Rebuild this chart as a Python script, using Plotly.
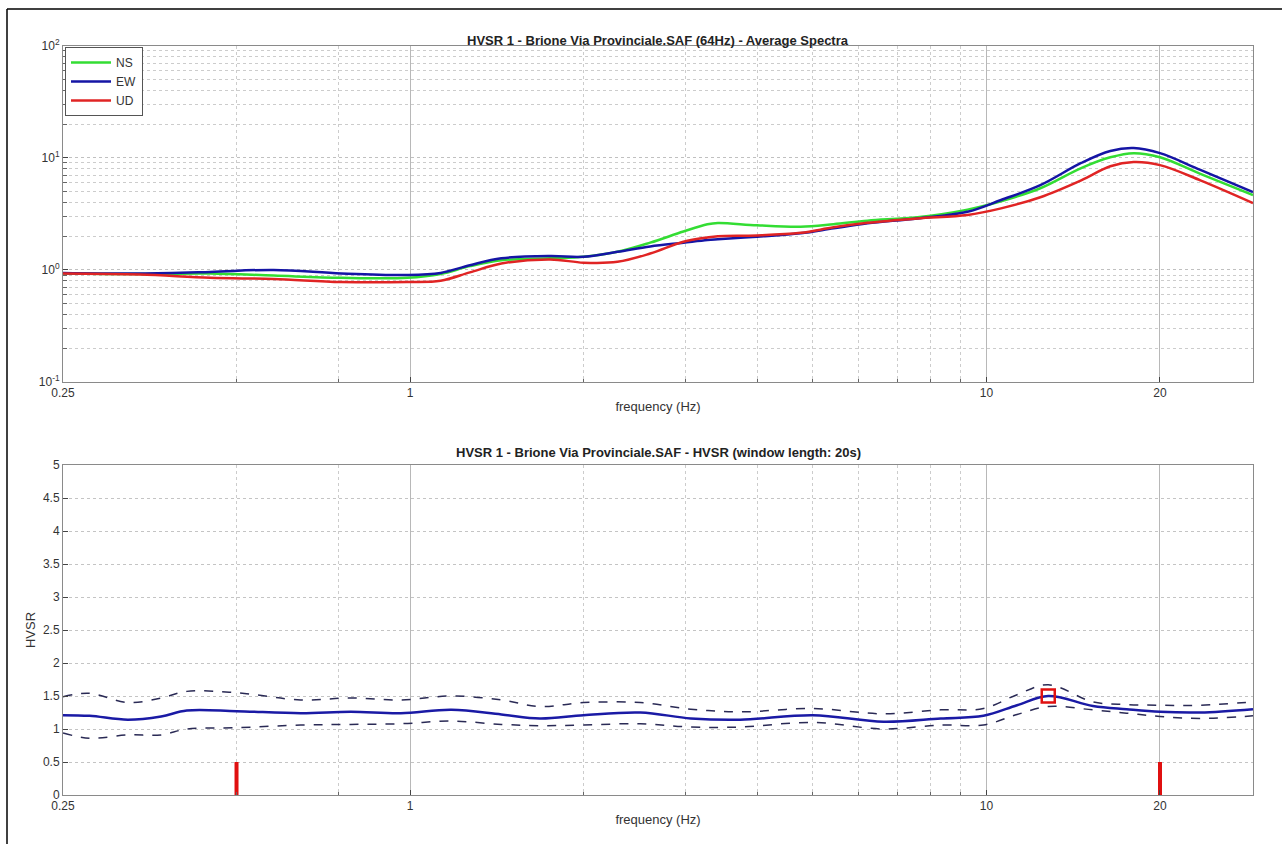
import plotly.graph_objects as go

# ---------------- data ----------------
freq_spec = [0.25, 0.34, 0.45, 0.58, 0.76, 0.99, 1.13, 1.27, 1.44, 1.75, 2.0, 2.29, 2.61,
             2.98, 3.28, 3.42, 4.0, 4.76, 5.43, 6.22, 7.59, 9.27, 10.6, 12.4, 14.6, 16.4,
             18.0, 20.0, 23.5, 29.0]
ns = [0.93, 0.92, 0.93, 0.89, 0.85, 0.85, 0.92, 1.08, 1.22, 1.27, 1.31, 1.45, 1.75,
      2.2, 2.55, 2.62, 2.5, 2.43, 2.56, 2.75, 2.95, 3.45, 4.1, 5.35, 8.1, 10.1,
      11.0, 10.1, 7.2, 4.65]
ew = [0.94, 0.93, 0.96, 1.00, 0.93, 0.90, 0.94, 1.10, 1.27, 1.33, 1.31, 1.45, 1.62,
      1.75, 1.85, 1.88, 1.98, 2.12, 2.35, 2.6, 2.88, 3.3, 4.2, 5.7, 9.0, 11.5,
      12.2, 11.0, 7.8, 4.95]
ud = [0.93, 0.91, 0.85, 0.83, 0.78, 0.78, 0.80, 0.95, 1.14, 1.24, 1.16, 1.18, 1.40,
      1.78, 1.95, 2.0, 2.03, 2.14, 2.4, 2.63, 2.88, 3.09, 3.54, 4.45, 6.3, 8.4,
      9.15, 8.6, 6.3, 3.95]

freq_hv = [0.25, 0.278, 0.324, 0.37, 0.41, 0.5, 0.646, 0.789, 0.964, 1.18, 1.44, 1.68,
           2.0, 2.51, 3.07, 3.74, 5.0, 6.63, 8.33, 9.88, 11.3, 12.8, 15.3, 17.5, 20.0,
           23.5, 29.0]
hv_mean = [1.21, 1.20, 1.14, 1.19, 1.28, 1.27, 1.24, 1.26, 1.24, 1.29, 1.22, 1.16,
           1.21, 1.25, 1.16, 1.14, 1.21, 1.11, 1.16, 1.20, 1.36, 1.50, 1.35, 1.30, 1.26,
           1.25, 1.30]
hv_upper = [1.49, 1.54, 1.40, 1.47, 1.57, 1.55, 1.44, 1.47, 1.44, 1.50, 1.44, 1.34,
            1.40, 1.40, 1.30, 1.26, 1.31, 1.23, 1.29, 1.31, 1.52, 1.67, 1.41, 1.37, 1.36,
            1.36, 1.41]
hv_lower = [0.94, 0.86, 0.91, 0.91, 1.00, 1.02, 1.06, 1.07, 1.08, 1.12, 1.07, 1.05,
            1.06, 1.08, 1.03, 1.03, 1.10, 1.00, 1.06, 1.06, 1.22, 1.34, 1.29, 1.24, 1.19,
            1.16, 1.20]
peak_freq = [12.8]
peak_hv = [1.50]
limit_freqs = [0.5, 20.0]
limit_height = 0.5

top_title = "HVSR 1 - Brione Via Provinciale.SAF (64Hz) - Average Spectra"
bottom_title = "HVSR 1 - Brione Via Provinciale.SAF - HVSR (window length: 20s)"
x_tickvals = [0.25, 1, 10, 20]
x_ticktext = ["0.25", "1", "10", "20"]
x_minor = [0.5, 0.75, 2, 3, 4, 5, 6, 7, 8, 9]
y_top_tickvals = [0.1, 1, 10, 100]
y_top_ticktext = ["10<sup>-1</sup>", "10<sup>0</sup>", "10<sup>1</sup>", "10<sup>2</sup>"]
y_top_minor = [0.2, 0.3, 0.4, 0.5, 0.6, 0.7, 0.8, 0.9,
               2, 3, 4, 5, 6, 7, 8, 9,
               20, 30, 40, 50, 60, 70, 80, 90]
y_bot_tickvals = [0, 0.5, 1, 1.5, 2, 2.5, 3, 3.5, 4, 4.5, 5]
y_bot_ticktext = ["0", "0.5", "1", "1.5", "2", "2.5", "3", "3.5", "4", "4.5", "5"]

# ---------------- figure ----------------
W, H = 1282, 844
FONT = "Liberation Sans, Arial, sans-serif"
TXT = "#333333"

def px_x(p):
    return p / W

def px_y(p):
    return 1 - p / H

fig = go.Figure()

fig.add_trace(go.Scatter(x=freq_spec, y=ns, name="NS", mode="lines",
                         line=dict(color="#33dd33", width=2.5, shape="spline"),
                         xaxis="x", yaxis="y"))
fig.add_trace(go.Scatter(x=freq_spec, y=ew, name="EW", mode="lines",
                         line=dict(color="#1515a5", width=2.5, shape="spline"),
                         xaxis="x", yaxis="y"))
fig.add_trace(go.Scatter(x=freq_spec, y=ud, name="UD", mode="lines",
                         line=dict(color="#e02424", width=2.5, shape="spline"),
                         xaxis="x", yaxis="y"))

fig.add_trace(go.Scatter(x=freq_hv, y=hv_upper, mode="lines", showlegend=False,
                         line=dict(color="#2a2a55", width=1.5, dash="dash", shape="spline"),
                         xaxis="x2", yaxis="y2"))
fig.add_trace(go.Scatter(x=freq_hv, y=hv_lower, mode="lines", showlegend=False,
                         line=dict(color="#2a2a55", width=1.5, dash="dash", shape="spline"),
                         xaxis="x2", yaxis="y2"))
fig.add_trace(go.Scatter(x=freq_hv, y=hv_mean, mode="lines", showlegend=False,
                         line=dict(color="#1a1aa5", width=2.5, shape="spline"),
                         xaxis="x2", yaxis="y2"))
for f in limit_freqs:
    fig.add_trace(go.Scatter(x=[f, f], y=[0, limit_height], mode="lines", showlegend=False,
                             line=dict(color="#e01010", width=4),
                             xaxis="x2", yaxis="y2"))
fig.add_trace(go.Scatter(x=peak_freq, y=peak_hv, mode="markers", showlegend=False,
                         marker=dict(symbol="square-open", size=13, color="#e01010",
                                     line=dict(width=2.5, color="#e01010")),
                         xaxis="x2", yaxis="y2"))

xdom = [px_x(63), px_x(1253)]
common_x = dict(type="log", range=[-0.60206, 1.4624], domain=xdom,
                tickvals=x_tickvals, ticktext=x_ticktext,
                showgrid=True, gridcolor="#b8b8b8", gridwidth=1,
                showline=True, linecolor="#8a8a8a", linewidth=1, mirror=True,
                ticks="inside", ticklen=5, tickcolor="#444",
                tickfont=dict(size=12, color=TXT, family=FONT),
                minor=dict(tickvals=x_minor, showgrid=True, gridcolor="#cccccc",
                           griddash="dot", ticks="inside", ticklen=3, tickcolor="#666"),
                zeroline=False, automargin=False,
                title=dict(text="frequency (Hz)", font=dict(size=13, color=TXT, family=FONT),
                           standoff=2))

fig.update_layout(
    width=W, height=H,
    margin=dict(l=0, r=0, t=0, b=0),
    paper_bgcolor="white", plot_bgcolor="white",
    font=dict(family=FONT, size=12, color=TXT),
    xaxis=dict(common_x, anchor="y"),
    yaxis=dict(type="log", range=[-1, 2], domain=[px_y(382), px_y(45.7)], anchor="x",
               tickvals=y_top_tickvals, ticktext=y_top_ticktext,
               showgrid=True, gridcolor="#c0c0c0", griddash="dot",
               showline=True, linecolor="#8a8a8a", linewidth=1, mirror=True,
               ticks="inside", ticklen=5, tickcolor="#444",
               tickfont=dict(size=12, color=TXT, family=FONT),
               minor=dict(tickvals=y_top_minor, showgrid=True, gridcolor="#cccccc",
                          griddash="dot", ticks="inside", ticklen=4, tickcolor="#666"),
               zeroline=False, automargin=False),
    xaxis2=dict(common_x, anchor="y2"),
    yaxis2=dict(range=[0, 5], domain=[px_y(795), px_y(465)], anchor="x2",
                tickvals=y_bot_tickvals, ticktext=y_bot_ticktext,
                showgrid=True, gridcolor="#c4c4c4", griddash="dot",
                showline=True, linecolor="#8a8a8a", linewidth=1, mirror=True,
                ticks="inside", ticklen=5, tickcolor="#444",
                tickfont=dict(size=12, color=TXT, family=FONT),
                zeroline=False, automargin=False,
                title=dict(text="HVSR", font=dict(size=13, color=TXT, family=FONT), standoff=4)),
    legend=dict(x=px_x(65), y=px_y(47), xanchor="left", yanchor="top",
                bgcolor="white", bordercolor="#555", borderwidth=1,
                font=dict(size=12, color=TXT, family=FONT),
                itemwidth=40, tracegroupgap=0),
    showlegend=True,
)

fig.add_annotation(text="<b>" + top_title + "</b>", x=px_x(658), y=px_y(31),
                   xref="paper", yref="paper", showarrow=False,
                   font=dict(size=13, color="#222", family=FONT))
fig.add_annotation(text="<b>" + bottom_title + "</b>", x=px_x(658), y=px_y(452),
                   xref="paper", yref="paper", showarrow=False,
                   font=dict(size=13, color="#222", family=FONT))

# outer frame (top and left edges visible)
fig.add_shape(type="line", xref="paper", yref="paper", x0=px_x(7), x1=1.0,
              y0=px_y(9), y1=px_y(9), line=dict(color="black", width=1.5))
fig.add_shape(type="line", xref="paper", yref="paper", x0=px_x(7), x1=px_x(7),
              y0=0, y1=px_y(9), line=dict(color="black", width=1.5))

fig.write_html("out.html")
